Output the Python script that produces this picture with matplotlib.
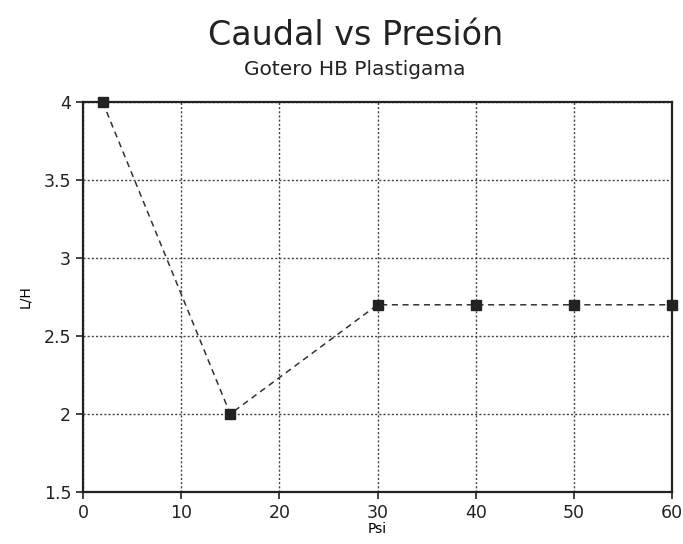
import matplotlib
matplotlib.use("Agg")
import matplotlib.pyplot as plt

psi = [2, 15, 30, 40, 50, 60]
caudal = [4.0, 2.0, 2.7, 2.7, 2.7, 2.7]
xticks = [0, 10, 20, 30, 40, 50, 60]
yticks = [1.5, 2, 2.5, 3, 3.5, 4]
ytick_labels = ["1.5", "2", "2.5", "3", "3.5", "4"]

plt.rcParams["font.family"] = ["DejaVu Sans"]
fig = plt.figure(figsize=(6.83, 5.44), dpi=100)
ax = fig.add_axes([0.1215, 0.0956, 0.8625, 0.7169])
ax.plot(psi, caudal, linestyle=(0, (4, 3)), color="#333333", linewidth=1.1,
        marker="s", markersize=7, markerfacecolor="#222222", markeredgecolor="#222222",
        clip_on=False, zorder=3)
ax.set_xlim(0, 60)
ax.set_ylim(1.5, 4)
ax.set_xticks(xticks)
ax.set_yticks(yticks)
ax.set_yticklabels(ytick_labels)
ax.grid(True, color="#444444", linestyle=(0, (1.5, 1.5)), linewidth=1.0)
for s in ax.spines.values():
    s.set_linewidth(1.6)
    s.set_color("#222222")
ax.tick_params(direction="out", length=5, width=1.2, labelsize=12.5, colors="#222222")
ax.set_xlabel("Psi", fontsize=10, labelpad=0)
ax.set_ylabel("L/H", fontsize=10, labelpad=8)
fig.text(0.52, 0.935, "Caudal vs Presión", ha="center", va="center", fontsize=24, color="#222222")
fig.text(0.52, 0.872, "Gotero HB Plastigama", ha="center", va="center", fontsize=14.5,
         color="#222222")
fig.savefig("out.png", dpi=100)
